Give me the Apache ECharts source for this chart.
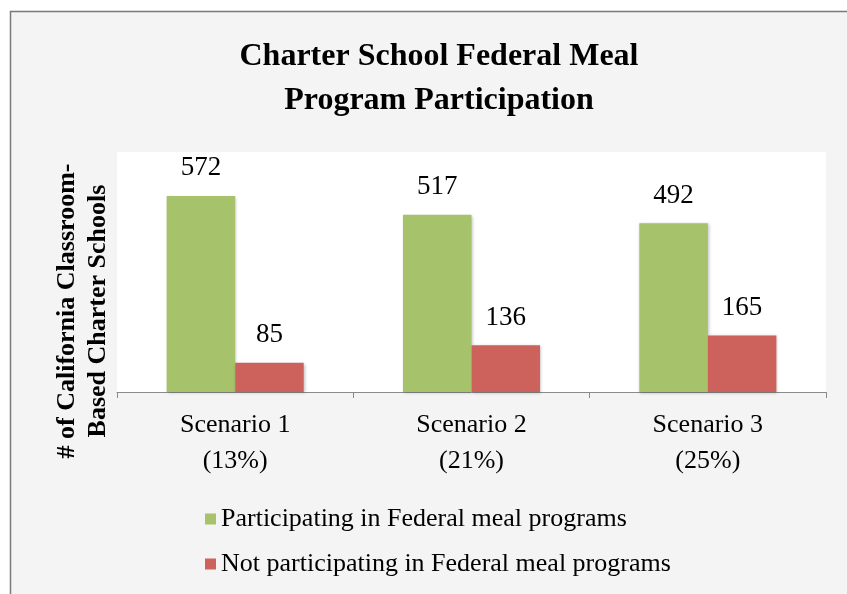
<!DOCTYPE html>
<html>
<head>
<meta charset="utf-8">
<script src="https://cdn.jsdelivr.net/npm/echarts@6/dist/echarts.min.js"></script>
<style>
body { margin: 0; background: #fff; }
#chart { width: 847px; height: 594px; }
</style>
</head>
<body>
<div id="chart"></div>
<script>
// 数据
var categories = ['Scenario 1\n(13%)', 'Scenario 2\n(21%)', 'Scenario 3\n(25%)'];
var participating = [572, 517, 492];
var notParticipating = [85, 136, 165];
var seriesNames = ['Participating in Federal meal programs', 'Not participating in Federal meal programs'];
var yName = '# of California Classroom-\nBased Charter Schools';

var serif = '"Liberation Serif", "DejaVu Serif", serif';

var myChart = echarts.init(document.getElementById('chart'));
//表格配置项
var option = {
	backgroundColor: '#fff',
	animation: false,
	graphic: [{
		type: 'rect',
		z: -10,
		silent: true,
		shape: { x: 10.5, y: 11.5, width: 900, height: 700 },
		style: { fill: '#f4f4f4', stroke: '#7a7a7a', lineWidth: 1.5 }
	}, {
		// y轴标题
		type: 'text',
		x: 83,
		y: 311,
		rotation: Math.PI / 2,
		style: {
			text: yName,
			fontFamily: serif,
			fontSize: 26,
			fontWeight: 'bold',
			fill: '#000',
			lineHeight: 31,
			align: 'center',
			verticalAlign: 'middle'
		}
	}],
	title: {
		text: 'Charter School Federal Meal\nProgram Participation',
		left: 434,
		textAlign: 'center',
		top: 30,
		textStyle: {
			fontFamily: serif,
			fontSize: 32,
			fontWeight: 'bold',
			color: '#000',
			lineHeight: 44
		}
	},
	legend: {
		orient: 'vertical',
		left: 200,
		top: 501,
		itemWidth: 11,
		itemHeight: 11,
		itemGap: 19,
		icon: 'rect',
		textStyle: { fontFamily: serif, fontSize: 26, color: '#000' },
		data: seriesNames
	},
	grid: {
		left: 117,
		right: 21,
		top: 152,
		bottom: 202,
		show: true,
		backgroundColor: '#fff',
		borderWidth: 0
	},
	xAxis: {
		type: 'category',
		data: categories,
		axisLine: { lineStyle: { color: '#8a8a8a', width: 1 } },
		axisTick: { show: true, length: 6, lineStyle: { color: '#8a8a8a' } },
		axisLabel: {
			fontFamily: serif,
			fontSize: 26,
			color: '#000',
			lineHeight: 36,
			margin: 15
		}
	},
	yAxis: {
		type: 'value',
		min: 0,
		max: 700,
		axisLine: { show: false },
		axisTick: { show: false },
		axisLabel: { show: false },
		splitLine: { show: false }
	},
	series: [{
		name: seriesNames[0],
		type: 'bar',
		data: participating,
		barGap: '0%',
		barCategoryGap: '42%',
		itemStyle: { color: '#a6c26a', shadowColor: 'rgba(0,0,0,0.25)', shadowBlur: 3, shadowOffsetX: 1, shadowOffsetY: 1 },
		label: { show: true, position: 'top', distance: 14, fontFamily: serif, fontSize: 27, color: '#000' }
	}, {
		name: seriesNames[1],
		type: 'bar',
		data: notParticipating,
		itemStyle: { color: '#cd625c', shadowColor: 'rgba(0,0,0,0.25)', shadowBlur: 3, shadowOffsetX: 1, shadowOffsetY: 1 },
		label: { show: true, position: 'top', distance: 14, fontFamily: serif, fontSize: 27, color: '#000' }
	}]
};
// 使用刚指定的配置项和数据显示图表。
myChart.setOption(option);
</script>
</body>
</html>
